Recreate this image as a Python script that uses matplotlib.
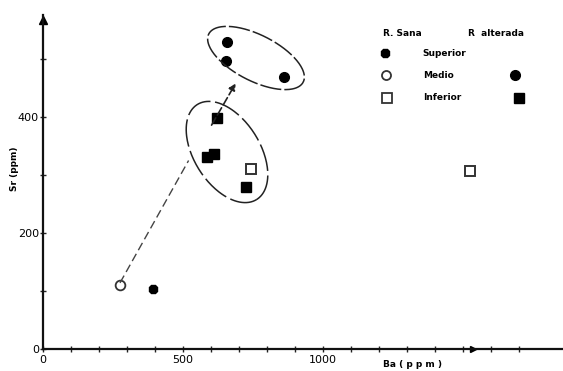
import numpy as np
import matplotlib.pyplot as plt

# Ba (ppm), Sr (ppm)
sup_sana_ba = [393]
sup_sana_sr = [103]
med_sana_ba = [275]
med_sana_sr = [110]
inf_sana_ba = [742, 1525]
inf_sana_sr = [310, 307]
med_alt_ba = [657, 654, 861]
med_alt_sr = [529, 497, 469]
inf_alt_ba = [620, 584, 612, 724]
inf_alt_sr = [399, 331, 337, 279]

xticks = [0, 500, 1000]
yticks = [0, 200, 400]

fig = plt.figure(figsize=(5.63, 3.71), dpi=100)
ax = fig.add_axes([43/563, 22/371, 520/563, 334/371])
ax.set_xlim(0, 520/0.28)
ax.set_ylim(0, 334/0.58)

for s in ['top', 'right']:
    ax.spines[s].set_visible(False)
for s in ['left', 'bottom']:
    ax.spines[s].set_linewidth(1.6)
    ax.spines[s].set_color('#111111')

ax.set_xticks(np.arange(0, 1800, 100), minor=True)
ax.set_yticks(np.arange(0, 600, 100), minor=True)
ax.set_xticks(xticks)
ax.set_yticks(yticks)
ax.tick_params(which='both', direction='inout', length=4, width=1, color='#222222',
               labelsize=8, pad=2)
ax.tick_params(axis='y', pad=1)

# axis arrowheads
ax.plot([0], [568], marker='^', color='k', ms=6, clip_on=False)
ax.plot([1536], [0], marker='>', color='k', ms=5, clip_on=False)

ax.text(-0.055, 0.54, 'Sr (ppm)', transform=ax.transAxes, rotation=90, fontsize=6.5,
        fontweight='bold', ha='center', va='center')
ax.text(0.71, -0.045, 'Ba ( p p m )', transform=ax.transAxes, fontsize=6.5,
        fontweight='bold', ha='center', va='center')

ms = 7
ax.plot(sup_sana_ba, sup_sana_sr, ls='none', marker='8', ms=ms, color='k')
ax.plot(med_sana_ba, med_sana_sr, ls='none', marker='o', ms=ms, mfc='white', mec='#333333', mew=1.3)
ax.plot(inf_sana_ba, inf_sana_sr, ls='none', marker='s', ms=ms, mfc='white', mec='#333333', mew=1.4)
ax.plot(med_alt_ba, med_alt_sr, ls='none', marker='o', ms=ms, color='k')
ax.plot(inf_alt_ba, inf_alt_sr, ls='none', marker='s', ms=ms, color='k')

# enclosing loops, defined in pixel space then mapped to data
kx, ky = 0.28, 0.58
def loop(cx, cy, a, b, ang, t0=0, t1=2*np.pi):
    t = np.linspace(t0, t1, 200)
    th = np.deg2rad(ang)
    px = cx + a*np.cos(t)*np.cos(th) - b*np.sin(t)*np.sin(th)
    py = cy + a*np.cos(t)*np.sin(th) + b*np.sin(t)*np.cos(th)
    return (px - 43)/kx, (349 - py)/ky

ux, uy = loop(256, 58, 53, 23, 27)
ax.plot(ux, uy, color='#222222', lw=1.1, dashes=(14, 2))
lx, ly = loop(227, 152, 56, 33, 58)
ax.plot(lx, ly, color='#222222', lw=1.1, dashes=(18, 3))

# trend arrow
arr_start = (275, 114)
arr_mid = (520, 325)
arr_rest = (602, 386)
arr_end = (688, 458)
ax.plot([arr_start[0], arr_mid[0]], [arr_start[1], arr_mid[1]], color='#444444', lw=1, dashes=(6, 3))
ax.annotate('', xy=arr_end, xytext=arr_rest,
            arrowprops=dict(arrowstyle='-|>', color='#222222', lw=1.2, ls=(0, (5, 2)),
                            mutation_scale=10, shrinkA=0, shrinkB=0))

# legend
lg = dict(fontsize=6.5, fontweight='bold', va='center', transform=fig.transFigure)
W, H = 563, 371
fig.text(383/W, 1-33/H, 'R. Sana', ha='left', **lg)
fig.text(468/W, 1-33/H, 'R  alterada', ha='left', **lg)
fig.text(422/W, 1-53/H, 'Superior', ha='left', **lg)
fig.text(423/W, 1-75/H, 'Medio', ha='left', **lg)
fig.text(423/W, 1-98/H, 'Inferior', ha='left', **lg)
fig.lines.extend([
    plt.Line2D([385/W], [1-53/H], marker='8', ms=ms, color='k', transform=fig.transFigure),
    plt.Line2D([386/W], [1-75/H], marker='o', ms=6.5, mfc='white', mec='#333333', mew=1.3, transform=fig.transFigure),
    plt.Line2D([515/W], [1-75/H], marker='o', ms=ms, color='k', transform=fig.transFigure),
    plt.Line2D([387/W], [1-98/H], marker='s', ms=6.5, mfc='white', mec='#333333', mew=1.3, transform=fig.transFigure),
    plt.Line2D([519/W], [1-98/H], marker='s', ms=ms, color='k', transform=fig.transFigure),
])

fig.savefig('out.png', dpi=100)
